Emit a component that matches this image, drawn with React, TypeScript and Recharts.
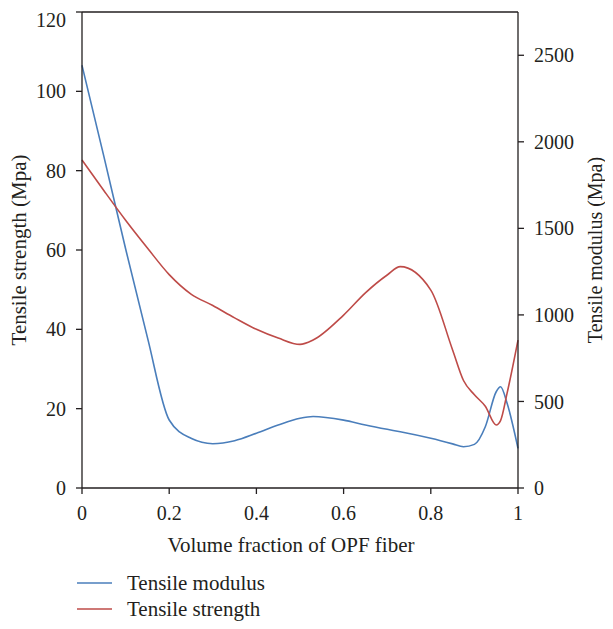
import { Legend, Line, LineChart, ReferenceLine, XAxis, YAxis } from "recharts"

// volume fraction of OPF fiber
const fraction = [0, 0.05, 0.1, 0.15, 0.2, 0.25, 0.3, 0.35, 0.4, 0.45, 0.5, 0.53, 0.6, 0.65, 0.7, 0.73, 0.8, 0.85, 0.875, 0.9, 0.925, 0.95, 0.96, 0.975, 1]

// Tensile strength (Mpa), left axis
const strength = [82.7, 75.0, 67.5, 60.5, 53.8, 48.9, 46.0, 42.9, 40.0, 37.8, 36.2, 37.3, 43.6, 49.2, 53.7, 55.8, 49.9, 34.8, 27.1, 23.5, 20.6, 15.9, 17.0, 23.9, 37.3]

// Tensile modulus (Mpa), right axis
const modulus = [2442, 1917, 1382, 870, 393, 287, 256, 273, 316, 364, 403, 413, 392, 364, 339, 325, 287, 255, 238, 252, 354, 556, 585, 489, 229]

const xTicks = [0, 0.2, 0.4, 0.6, 0.8, 1]
const strengthTicks = [0, 20, 40, 60, 80, 100, 120]
const modulusTicks = [0, 500, 1000, 1500, 2000, 2500]

const data = fraction.map((x, i) => ({ x, strength: strength[i], modulus: modulus[i] }))

const FONT = "'Liberation Serif', 'DejaVu Serif', serif"
const INK = "#231f20"
const BLUE = "#4a7ebb"
const RED = "#be4b48"

const tickStyle = { fill: INK, fontSize: 20, fontFamily: FONT }
const titleStyle = { fill: INK, fontSize: 21, fontFamily: FONT, textAnchor: "middle" as const }

// legend rows use a small line-height so the box stays inside the page
function LegendBox() {
  const rows = [
    { name: "Tensile modulus", color: BLUE },
    { name: "Tensile strength", color: RED },
  ]
  return (
    <div style={{ height: 73, paddingTop: 28, paddingLeft: 69, boxSizing: "border-box", display: "flex", flexDirection: "column", gap: 12, fontFamily: FONT, fontSize: 21, color: INK }}>
      {rows.map((r) => (
        <div key={r.name} style={{ height: 14, lineHeight: "14px", display: "flex", alignItems: "center" }}>
          <span style={{ display: "inline-block", width: 35, height: 0, borderTop: `2px solid ${r.color}`, opacity: 0.75, marginRight: 15 }} />
          <span>{r.name}</span>
        </div>
      ))}
    </div>
  )
}

export default function App() {
  return (
    <LineChart width={597} height={613} data={data} margin={{ top: 4, right: 1, left: 0, bottom: 0 }}>
      <XAxis
        dataKey="x"
        type="number"
        domain={[0, 1]}
        ticks={xTicks}
        tickFormatter={(v: number) => (v === 0 || v === 1 ? String(v) : v.toFixed(1))}
        height={60}
        tickSize={6}
        tickMargin={12}
        stroke={INK}
        strokeWidth={1.3}
        tick={tickStyle}
        label={{ value: "Volume fraction of OPF fiber", position: "center", dx: -9, dy: 27, style: titleStyle }}
      />
      <YAxis
        yAxisId="left"
        domain={[0, 120]}
        ticks={strengthTicks}
        width={74}
        tickSize={6}
        tickMargin={10}
        stroke={INK}
        strokeWidth={1.3}
        tick={tickStyle}
        label={{ value: "Tensile strength (Mpa)", angle: -90, position: "center", dx: -26, style: titleStyle }}
      />
      <YAxis
        yAxisId="right"
        orientation="right"
        domain={[0, 2750]}
        ticks={modulusTicks}
        width={86}
        tickSize={6}
        tickMargin={10}
        stroke={INK}
        strokeWidth={1.3}
        tick={tickStyle}
        label={{ value: "Tensile modulus (Mpa)", angle: -90, position: "center", dx: 34, style: { ...titleStyle, fontSize: 20 } }}
      />
      <ReferenceLine yAxisId="left" y={120} stroke={INK} strokeWidth={1.3} />
      <Legend verticalAlign="bottom" content={() => <LegendBox />} />
      <Line yAxisId="right" type="monotone" dataKey="modulus" name="Tensile modulus" stroke={BLUE} strokeWidth={1.6} dot={false} isAnimationActive={false} />
      <Line yAxisId="left" type="monotone" dataKey="strength" name="Tensile strength" stroke={RED} strokeWidth={1.6} dot={false} isAnimationActive={false} />
    </LineChart>
  )
}
